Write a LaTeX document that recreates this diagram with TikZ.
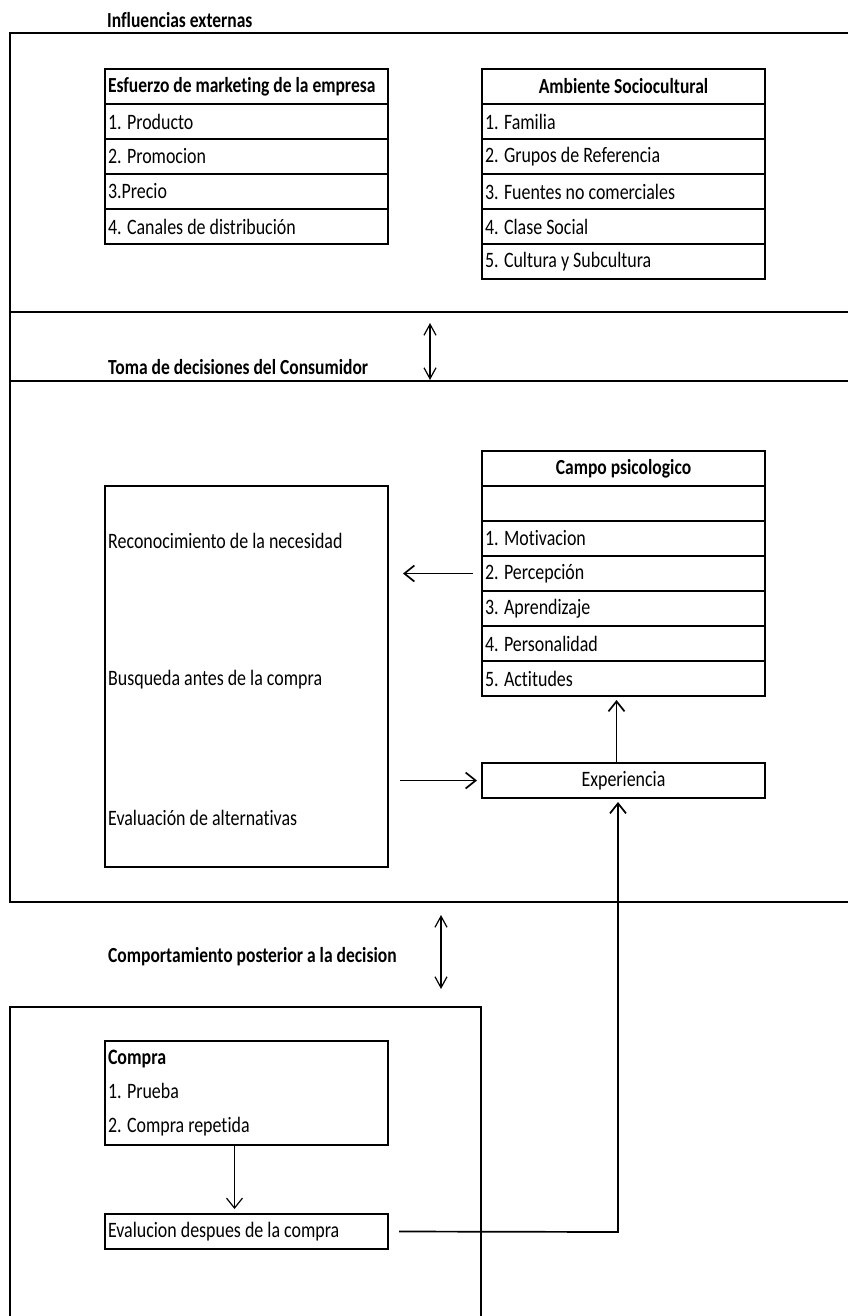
\documentclass[tikz,border=0pt]{standalone}
\usepackage{fontspec}
\setmainfont[FakeStretch=0.815, Ligatures=NoCommon]{Carlito}
\usetikzlibrary{positioning,arrows.meta}
\newcommand{\ConsumoCeldaAncho}{283pt}
\newcommand{\ConsumoFila}{35pt}

\tikzset{
	celda/.style={draw, line width=1.6pt, outer sep=0pt, minimum width=\ConsumoCeldaAncho, minimum height=\ConsumoFila, inner xsep=3pt, inner ysep=2pt, text width=277pt, align=flush left, anchor=north west, font=\fontsize{22}{25}\selectfont},
	cabecera/.style={celda, font=\fontsize{21.5}{25}\selectfont\bfseries},
	marco/.style={line width=2pt},
	titulo/.style={anchor=west, inner sep=0pt, font=\fontsize{21.5}{25}\selectfont\bfseries},
	texto/.style={anchor=west, inner sep=0pt, font=\fontsize{22}{25}\selectfont},
	flecha/.style={line width=1.7pt, -{Straight Barb[length=10pt,width=16pt]}},
	doble/.style={line width=1.2pt, {Straight Barb[length=11pt,width=12pt]}-{Straight Barb[length=11pt,width=12pt]}},
}

\begin{document}
\begin{tikzpicture}[x=1pt, y=-1pt]
		\useasboundingbox (0,0) rectangle (848,1316);
		\draw[marco] (848,33) -- (10,33) -- (10,902) -- (848,902);
		\draw[marco] (10,312) -- (848,312);
		\draw[marco] (10,381) -- (848,381);
		\draw[marco] (10,1316) -- (10,1007) -- (481,1007) -- (481,1316);

		\node[titulo] (tinf) at (107,20) {Influencias externas};
		\node[titulo] (ttoma) at (108,367) {Toma de decisiones del Consumidor};
		\node[titulo] (tcomp) at (108,957) {Comportamiento posterior a la decision};

		\node[cabecera] (e0) at (105,69) {Esfuerzo de marketing de la empresa};
		\node[celda, below=0pt of e0] (e1) {1. Producto};
		\node[celda, below=0pt of e1] (e2) {2. Promocion};
		\node[celda, below=0pt of e2] (e3) {3.Precio};
		\node[celda, below=0pt of e3] (e4) {4. Canales de distribución};

		\node[cabecera, align=flush center] (s0) at (482,69) {Ambiente Sociocultural};
		\node[celda, below=0pt of s0] (s1) {1. Familia};
		\node[celda, below=0pt of s1] (s2) {2. Grupos de Referencia};
		\node[celda, below=0pt of s2] (s3) {3. Fuentes no comerciales};
		\node[celda, below=0pt of s3] (s4) {4. Clase Social};
		\node[celda, below=0pt of s4] (s5) {5. Cultura y Subcultura};

		\node[cabecera, align=flush center] (p0) at (482,451) {Campo psicologico};
		\node[celda, below=0pt of p0] (p1) {};
		\node[celda, below=0pt of p1] (p2) {1. Motivacion};
		\node[celda, below=0pt of p2] (perc) {2. Percepción};
		\node[celda, below=0pt of perc] (p4) {3. Aprendizaje};
		\node[celda, below=0pt of p4] (p5) {4. Personalidad};
		\node[celda, below=0pt of p5] (acti) {5. Actitudes};

		\node[celda, minimum height=381pt] (decision) at (105,486) {};
		\node[texto] (reco) at (108,541) {Reconocimiento de la necesidad};
		\node[texto] (busq) at (108,680) {Busqueda antes de la compra};
		\node[texto] (alte) at (108,818) {Evaluación de alternativas};

		\node[celda, align=flush center] (expe) at (482,763) {Experiencia};

		\node[celda, minimum height=104pt, inner ysep=8pt, font=\fontsize{22}{34}\selectfont] (compra) at (105,1041) {\textbf{Compra}\\1. Prueba\\2. Compra repetida};
		\node[celda] (eval) at (105,1214) {Evalucion despues de la compra};

		\coordinate (d1a) at (430,323);
		\coordinate (d1b) at (430,380);
		\coordinate (d2a) at (441,915);
		\coordinate (d2b) at (441,989);
		\coordinate (codo) at (618,1232);

		\draw[doble] (d1a) -- (d1b);
		\draw[doble] (d2a) -- (d2b);
		\draw[flecha] ([xshift=-9pt]perc.west) -- ([xshift=15pt]decision.east |- perc.west);
		\draw[flecha] ([xshift=12pt]decision.east |- expe.west) -- ([xshift=-5pt]expe.west);
		\draw[flecha] ([xshift=-7pt]expe.north) -- ([xshift=-7pt, yshift=-4pt]acti.south);
		\draw[flecha] ([xshift=11pt]eval.east) -- (codo) -- ([yshift=-4pt]codo |- expe.south);
		\draw[flecha, line width=1.2pt] ([xshift=-12pt]compra.south) -- ([xshift=-12pt, yshift=5pt]eval.north);
\end{tikzpicture}
\end{document}
